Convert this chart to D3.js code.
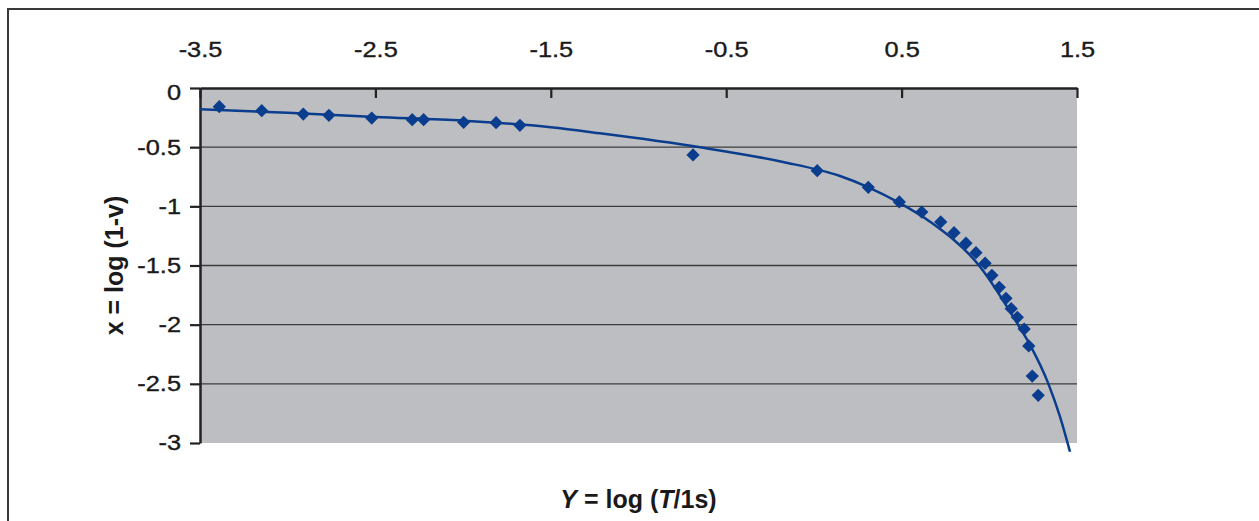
<!DOCTYPE html>
<html>
<head>
<meta charset="utf-8">
<script src="https://cdn.jsdelivr.net/npm/d3@7"></script>
<style>
  html, body { margin: 0; padding: 0; background: #fff; }
  svg { display: block; }
  text { font-family: "Liberation Sans", Arial, Helvetica, sans-serif; fill: #1a1a1a; }
</style>
</head>
<body>
<svg id="chart" width="1259" height="521"></svg>
<script>
// measured points: Y = log(T/1s) and x = log(1-v)
const logT = [-3.39, -3.148, -2.911, -2.765, -2.521, -2.29, -2.225, -1.997, -1.812, -1.676,
    -0.689, 0.019, 0.31, 0.487, 0.615, 0.723, 0.799, 0.867, 0.924, 0.976,
    1.015, 1.057, 1.095, 1.125, 1.16, 1.199, 1.225, 1.245, 1.279];
const logV = [-0.158, -0.192, -0.22, -0.231, -0.254, -0.268, -0.268, -0.29, -0.293, -0.315,
    -0.566, -0.699, -0.839, -0.963, -1.048, -1.132, -1.223, -1.312, -1.392, -1.481,
    -1.583, -1.684, -1.777, -1.865, -1.938, -2.037, -2.18, -2.434, -2.597];

// fitted trend line
const trendT = [-3.5, -3.0, -2.5, -2.0, -1.5, -1.22, -0.649, -0.176, 0.149, 0.308,
    0.485, 0.662, 0.947, 1.165, 1.232, 1.336, 1.403, 1.46];
const trendV = [-0.18, -0.209, -0.245, -0.276, -0.332, -0.383, -0.501, -0.625, -0.744, -0.837,
    -0.969, -1.13, -1.51, -2.003, -2.17, -2.496, -2.778, -3.074];

const xTicks = [-3.5, -2.5, -1.5, -0.5, 0.5, 1.5];
const yTicks = [0, -0.5, -1, -1.5, -2, -2.5, -3];
const gridValues = [-0.5, -1, -1.5, -2, -2.5];

const blue = "#0b3d8e";
const stretch = 1.18; // tick labels are drawn wide in the original

const svg = d3.select("#chart");

const x = d3.scaleLinear().domain([-3.5, 1.5]).range([200, 1077]);
const y = d3.scaleLinear().domain([0, -3]).range([88, 443]);

// outer frame (top and left only)
svg.append("path")
    .attr("d", "M8,521 L8,9 L1259,9")
    .attr("fill", "none")
    .attr("stroke", "#3a3a3a")
    .attr("stroke-width", 2);

// plot area
svg.append("rect")
    .attr("x", x(-3.5))
    .attr("y", y(0))
    .attr("width", x(1.5) - x(-3.5))
    .attr("height", y(-3) - y(0))
    .attr("fill", "#bdbec1");

// grid
svg.append("g")
    .selectAll("line")
    .data(gridValues)
    .join("line")
    .attr("x1", x(-3.5))
    .attr("x2", x(1.5))
    .attr("y1", (d) => y(d))
    .attr("y2", (d) => y(d))
    .attr("stroke", "#3c3c3c")
    .attr("stroke-width", 1.3);

// top axis, ticks pointing into the plot
const gx = svg.append("g")
    .attr("transform", `translate(0,${y(0)})`)
    .call(d3.axisTop(x).tickValues(xTicks).tickSize(-10).tickSizeOuter(0)
        .tickPadding(31).tickFormat((d) => String(d)));

// left axis
const gy = svg.append("g")
    .attr("transform", `translate(${x(-3.5)},0)`)
    .call(d3.axisLeft(y).tickValues(yTicks).tickSize(10).tickSizeOuter(0)
        .tickFormat((d) => String(d)));

for (const g of [gx, gy]) {
    g.select(".domain").attr("stroke", "#222").attr("stroke-width", 2.5);
    g.selectAll(".tick line").attr("stroke", "#222").attr("stroke-width", 2.2);
    g.selectAll("text")
        .attr("font-size", 21.5)
        .attr("font-family", null)
        .attr("fill", "#1a1a1a")
        .attr("stroke", "#1a1a1a")
        .attr("stroke-width", 0.35)
        .attr("transform", `scale(${stretch},1)`);
}
gy.selectAll("text").attr("x", -19 / stretch);
gy.selectAll(".tick").filter((d) => d === 0).select("text").attr("dy", "0.52em");

// trend line
const line = d3.line()
    .x((d) => x(d[0]))
    .y((d) => y(d[1]))
    .curve(d3.curveMonotoneX);

svg.append("path")
    .datum(d3.zip(trendT, trendV))
    .attr("d", line)
    .attr("fill", "none")
    .attr("stroke", blue)
    .attr("stroke-width", 2.5);

// markers
const diamond = d3.symbol(d3.symbolSquare, 88);
svg.append("g")
    .selectAll("path")
    .data(d3.zip(logT, logV))
    .join("path")
    .attr("d", diamond)
    .attr("transform", (d) => `translate(${x(d[0])},${y(d[1])}) rotate(45)`)
    .attr("fill", blue);

// axis titles
svg.append("text")
    .attr("x", (x(-3.5) + x(1.5)) / 2)
    .attr("y", 508)
    .attr("text-anchor", "middle")
    .attr("font-size", 25)
    .attr("font-weight", "bold")
    .call((t) => {
        t.append("tspan").attr("font-style", "italic").text("Y");
        t.append("tspan").text(" = log (");
        t.append("tspan").attr("font-style", "italic").text("T");
        t.append("tspan").text("/1s)");
    });

svg.append("text")
    .attr("transform", `translate(123,${(y(0) + y(-3)) / 2}) rotate(-90)`)
    .attr("text-anchor", "middle")
    .attr("font-size", 25)
    .attr("font-weight", "bold")
    .text("x = log (1-v)");
</script>
</body>
</html>
